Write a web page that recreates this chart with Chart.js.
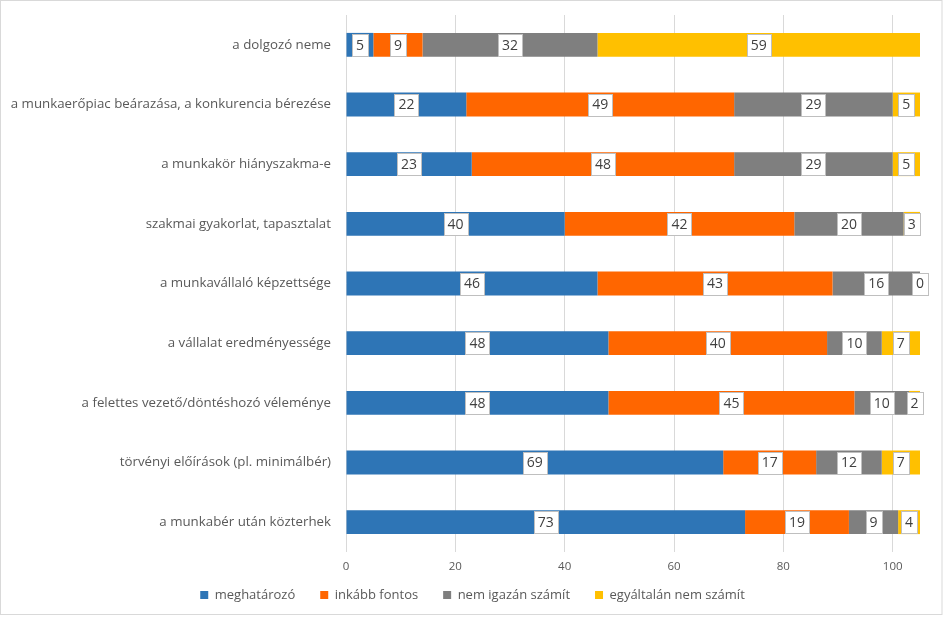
<!DOCTYPE html>
<html>
<head>
<meta charset="utf-8">
<script src="https://cdn.jsdelivr.net/npm/chart.js@4/dist/chart.umd.min.js"></script>
<style>
  html, body { margin: 0; padding: 0; background: #fff; }
  #wrap { width: 944px; height: 617px; }
</style>
</head>
<body>
<div id="wrap"><canvas id="chart" width="944" height="617"></canvas></div>
<script>
const categories = [
  "a dolgozó neme",
  "a munkaerőpiac beárazása, a konkurencia bérezése",
  "a munkakör hiányszakma-e",
  "szakmai gyakorlat, tapasztalat",
  "a munkavállaló képzettsége",
  "a vállalat eredményessége",
  "a felettes vezető/döntéshozó véleménye",
  "törvényi előírások (pl. minimálbér)",
  "a munkabér után közterhek"
];
const seriesNames = ["meghatározó", "inkább fontos", "nem igazán számít", "egyáltalán nem számít"];
const meghatarozo = [5, 22, 23, 40, 46, 48, 48, 69, 73];
const inkabbFontos = [9, 49, 48, 42, 43, 40, 45, 17, 19];
const nemIgazan = [32, 29, 29, 20, 16, 10, 10, 12, 9];
const egyaltalan = [59, 5, 5, 3, 0, 7, 2, 7, 4];
const xTicks = [0, 20, 40, 60, 80, 100];
const colors = ["#2E75B6", "#FF6600", "#7F7F7F", "#FFC000"];

const FONT = "'Open Sans', 'DejaVu Sans', sans-serif";

// white boxes with the value, centred on each segment
const valueBoxes = {
  id: "valueBoxes",
  afterDatasetsDraw(chart) {
    const ctx = chart.ctx;
    ctx.save();
    ctx.font = "14px " + FONT;
    ctx.textAlign = "center";
    ctx.textBaseline = "middle";
    chart.data.datasets.forEach((ds, i) => {
      const meta = chart.getDatasetMeta(i);
      meta.data.forEach((bar, j) => {
        const p = bar.getProps(["x", "y", "base", "height"], true);
        const cx = (p.x + p.base) / 2;
        const txt = String(ds.data[j]);
        const w = Math.round(ctx.measureText(txt).width + 8);
        const h = 22;
        const left = Math.round(cx - w / 2) + 0.5;
        const top = Math.round(p.y - h / 2) + 0.5;
        ctx.fillStyle = "#ffffff";
        ctx.fillRect(left, top, w, h);
        ctx.strokeStyle = "#bfbfbf";
        ctx.lineWidth = 1;
        ctx.strokeRect(left, top, w, h);
        ctx.fillStyle = "#404040";
        ctx.fillText(txt, cx, p.y + 1);
      });
    });
    ctx.restore();
  }
};

const frame = {
  id: "frame",
  beforeDraw(chart) {
    const ctx = chart.ctx;
    ctx.save();
    ctx.fillStyle = "#ffffff";
    ctx.fillRect(0, 0, chart.width, chart.height);
    ctx.restore();
  },
  afterLayout(chart) {
    // legend sits a bit higher and is centred without the trailing gap
    const lg = chart.legend;
    lg.top -= 10.5; lg.bottom -= 10.5;
    lg.left += 12.5; lg.right += 12.5;
  },
  afterDraw(chart) {
    const ctx = chart.ctx;
    ctx.save();
    ctx.strokeStyle = "#d9d9d9";
    ctx.lineWidth = 1;
    ctx.strokeRect(0.5, 0.5, 941.5, 614);
    ctx.restore();
  }
};

const datasets = [meghatarozo, inkabbFontos, nemIgazan, egyaltalan].map((vals, i) => ({
  label: seriesNames[i],
  data: vals,
  backgroundColor: colors[i],
  borderWidth: 0,
  barPercentage: 0.4,
  categoryPercentage: 1
}));

new Chart(document.getElementById("chart"), {
  type: "bar",
  data: { labels: categories, datasets },
  plugins: [frame, valueBoxes],
  options: {
    indexAxis: "y",
    responsive: false,
    animation: false,
    layout: { padding: { top: 15, right: 24, left: 0, bottom: 3 } },
    plugins: {
      tooltip: { enabled: false },
      legend: {
        position: "bottom",
        maxHeight: 40,
        labels: {
          boxWidth: 8,
          boxHeight: 8,
          padding: 25,
          color: "#595959",
          font: { family: FONT, size: 13 }
        }
      }
    },
    scales: {
      x: {
        stacked: true,
        min: 0,
        max: 105,
        afterFit(scale) {
          scale.height = 22;
          scale.paddingLeft = 0; scale.paddingRight = 0;
        },
        afterBuildTicks(scale) { scale.ticks = xTicks.map(v => ({ value: v })); },
        ticks: { stepSize: 20, includeBounds: false, padding: 8, color: "#595959", font: { family: FONT, size: 11.5 } },
        grid: { color: "#d9d9d9", drawTicks: false },
        border: { display: false }
      },
      y: {
        stacked: true,
        afterFit(scale) {
          scale.width = 346;
          scale.paddingTop = 0; scale.paddingBottom = 0;
        },
        ticks: { padding: 15, color: "#595959", font: { family: FONT, size: 13.3 } },
        grid: { display: false, drawTicks: false },
        border: { display: false }
      }
    }
  }
});
</script>
</body>
</html>
